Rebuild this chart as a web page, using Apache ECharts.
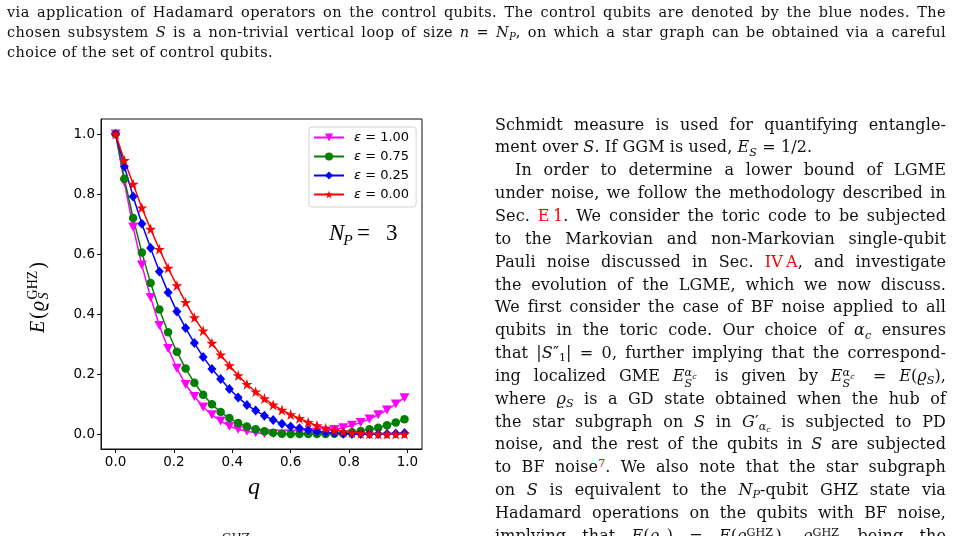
<!DOCTYPE html>
<html>
<head>
<meta charset="utf-8">
<script src="https://cdn.jsdelivr.net/npm/echarts@6/dist/echarts.min.js"></script>
<style>
  html, body { margin: 0; padding: 0; background: #fff; }
  #page { position: relative; width: 954px; height: 536px; overflow: hidden; }
  #chart { position: absolute; left: 0; top: 0; width: 954px; height: 536px; }
  .txt { position: absolute; font-family: "DejaVu Serif", serif; color: #111; }
  .caption { left: 7px; width: 939px; top: 1.5px; font-size: 14.5px; line-height: 20.4px; letter-spacing: 0.4px; }
  .body { left: 495px; width: 451px; top: 113.6px; font-size: 16px; line-height: 22.85px; letter-spacing: 0.1px; }
  .j { text-align: justify; text-align-last: justify; }
  .r { color: #f00; }
  sub, sup { font-size: 70%; line-height: 0; position: relative; vertical-align: baseline; letter-spacing: 0; }
  sup { top: -0.45em; }
  sub { top: 0.3em; }
  .st { position: relative; display: inline-block; height: 0; }
  .st .up { position: absolute; left: 0; top: -1.2em; font-size: 70%; line-height: 1; letter-spacing: 0; }
  .st .dn { position: absolute; left: 0; top: -0.25em; font-size: 70%; line-height: 1; }
</style>
</head>
<body>
<div id="page">
  <div id="chart"></div>

  <div class="txt caption">
    <div class="j">via application of Hadamard operators on the control qubits. The control qubits are denoted by the blue nodes. The</div>
    <div class="j">chosen subsystem <i>S</i> is a non-trivial vertical loop of size <i>n</i> = <i>N<sub>P</sub></i>, on which a star graph can be obtained via a careful</div>
    <div>choice of the set of control qubits.</div>
  </div>

  <div class="txt body">
    <div class="j">Schmidt measure is used for quantifying entangle-</div>
    <div>ment over <i>S</i>. If GGM is used, <i>E<sub>S</sub></i> = 1/2.</div>
    <div class="j" style="padding-left:20px">In order to determine a lower bound of LGME</div>
    <div class="j">under noise, we follow the methodology described in</div>
    <div class="j">Sec. <span class="r">E&#8201;1</span>. We consider the toric code to be subjected</div>
    <div class="j">to the Markovian and non-Markovian single-qubit</div>
    <div class="j">Pauli noise discussed in Sec. <span class="r">IV&#8201;A</span>, and investigate</div>
    <div class="j">the evolution of the LGME, which we now discuss.</div>
    <div class="j">We first consider the case of BF noise applied to all</div>
    <div class="j">qubits in the toric code. Our choice of <i>α<sub>c</sub></i> ensures</div>
    <div class="j">that |<i>S</i>″<sub>1</sub>| = 0, further implying that the correspond-</div>
    <div class="j">ing localized GME <i>E</i><span class="st" style="width:1.1em"><span class="up"><i>α<sub>c</sub></i></span><span class="dn"><i>S</i></span></span> is given by <i>E</i><span class="st" style="width:1.1em"><span class="up"><i>α<sub>c</sub></i></span><span class="dn"><i>S</i></span></span> = <i>E</i>(<i>ϱ<sub>S</sub></i>),</div>
    <div class="j">where <i>ϱ<sub>S</sub></i> is a GD state obtained when the hub of</div>
    <div class="j">the star subgraph on <i>S</i> in <i>G</i>′<sub><i>α<sub>c</sub></i></sub> is subjected to PD</div>
    <div class="j">noise, and the rest of the qubits in <i>S</i> are subjected</div>
    <div class="j">to BF noise<sup class="r">7</sup>. We also note that the star subgraph</div>
    <div class="j">on <i>S</i> is equivalent to the <i>N<sub>P</sub></i>-qubit GHZ state via</div>
    <div class="j">Hadamard operations on the qubits with BF noise,</div>
    <div class="j">implying that <i>E</i>(<i>ϱ<sub>S</sub></i>) = <i>E</i>(<i>ϱ</i><span class="st" style="width:1.8em"><span class="up">GHZ</span><span class="dn"><i>S</i></span></span>), <i>ϱ</i><span class="st" style="width:1.8em"><span class="up">GHZ</span><span class="dn"><i>S</i></span></span> being the</div>
  </div>

  <div class="txt" style="left:212px; top:529px; font-size:17px; line-height:22px;"><i>ϱ</i><span class="st" style="width:1.8em"><span class="up">GHZ</span><span class="dn"><i>S</i></span></span></div>
</div>

<script>
// q values on the x axis
const qValues = [0, 0.03, 0.06, 0.09, 0.12, 0.15, 0.18, 0.21, 0.24, 0.27, 0.30, 0.33,
  0.36, 0.39, 0.42, 0.45, 0.48, 0.51, 0.54, 0.57, 0.60, 0.63, 0.66, 0.69, 0.72, 0.75,
  0.78, 0.81, 0.84, 0.87, 0.90, 0.93, 0.96, 0.99];

// E(rho_S^GHZ) for each epsilon
const eps100 = [1.0, 0.839, 0.690, 0.563, 0.455, 0.362, 0.285, 0.219, 0.165, 0.125, 0.090, 0.064,
  0.043, 0.026, 0.016, 0.009, 0.004, 0.002, 0.001, 0, 0, 0.001, 0.003, 0.006, 0.010, 0.015,
  0.021, 0.029, 0.038, 0.050, 0.064, 0.080, 0.100, 0.121];
const eps075 = [1.0, 0.851, 0.720, 0.605, 0.503, 0.415, 0.339, 0.274, 0.218, 0.171, 0.131, 0.099,
  0.073, 0.053, 0.037, 0.025, 0.016, 0.009, 0.004, 0.001, 0, 0, 0, 0, 0, 0.001,
  0.002, 0.006, 0.010, 0.016, 0.021, 0.029, 0.038, 0.049];
const eps025 = [1.0, 0.892, 0.792, 0.701, 0.620, 0.542, 0.472, 0.408, 0.353, 0.303, 0.257, 0.217,
  0.183, 0.150, 0.122, 0.097, 0.078, 0.061, 0.047, 0.034, 0.025, 0.019, 0.013, 0.008, 0.005, 0.003,
  0.001, 0, 0, 0, 0, 0.001, 0.002, 0.003];
const eps000 = [1.0, 0.912, 0.833, 0.754, 0.683, 0.616, 0.553, 0.495, 0.439, 0.388, 0.344, 0.303,
  0.264, 0.228, 0.195, 0.166, 0.141, 0.118, 0.097, 0.080, 0.065, 0.052, 0.039, 0.028, 0.019, 0.013,
  0.008, 0.004, 0.002, 0.001, 0, 0, 0, 0];

const epsLabels = ['1.00', '0.75', '0.25', '0.00'];
const xTicks = [0, 0.2, 0.4, 0.6, 0.8, 1.0];
const yTicks = [0, 0.2, 0.4, 0.6, 0.8, 1.0];

const starPath = 'path://M0,-10L2.245,-3.09L9.51,-3.09L3.633,1.18L5.88,8.09L0,3.82L-5.88,8.09L-3.633,1.18L-9.51,-3.09L-2.245,-3.09Z';
const triDownPath = 'path://M-1,-1L1,-1L0,1Z';

const tickFont = '"DejaVu Sans", sans-serif';
const mathFont = '"Liberation Serif", "DejaVu Serif", serif';

// small helper to lay out math-ish text with sub/superscripts as graphic texts
const measureCtx = document.createElement('canvas').getContext('2d');
function measure(text, font) {
	measureCtx.font = font;
	return measureCtx.measureText(text).width;
}
function mathGroup(x, y, rotation, parts) {
	let cursor = 0;
	let stackStart = 0;
	let stackEnd = 0;
	const children = [];
	parts.forEach(function (p) {
		const font = (p.italic ? 'italic ' : '') + p.size + 'px ' + mathFont;
		const w = measure(p.text, font);
		let px;
		if (p.at !== undefined) {
			px = p.at;
		} else if (p.stack) {
			px = stackStart;
		} else {
			px = Math.max(cursor, stackEnd) + (p.gap || 0);
		}
		children.push({
			type: 'text',
			x: px,
			y: (p.dy || 0) - 0.33 * p.size,
			style: {
				text: p.text,
				font: font,
				fill: '#000',
				verticalAlign: 'middle',
				align: 'left',
			},
		});
		if (!p.stack) {
			stackStart = px;
			stackEnd = 0;
		}
		stackEnd = Math.max(stackEnd, px + w);
		cursor = px + w;
	});
	return { type: 'group', x: x, y: y, rotation: rotation, children: children };
}

function makeSeries(name, values, color, symbol, size) {
	return {
		name: name,
		type: 'line',
		data: qValues.map(function (q, i) {
			return [q, values[i]];
		}),
		symbol: symbol,
		symbolSize: size,
		showAllSymbol: true,
		clip: false,
		lineStyle: { color: color, width: 1.5 },
		itemStyle: { color: color, borderWidth: 0 },
		emphasis: { disabled: true },
	};
}

var chartDom = document.getElementById('chart');
var chart = echarts.init(chartDom, null, { renderer: 'canvas' });

const options = {
	animation: false,
	backgroundColor: 'transparent',
	grid: {
		left: 101,
		top: 119,
		width: 321,
		height: 330,
		show: true,
		borderColor: '#111',
		borderWidth: 1,
		backgroundColor: 'transparent',
	},
	legend: {
		orient: 'vertical',
		left: 309,
		top: 127,
		padding: [4, 7, 6, 4],
		itemWidth: 30,
		itemHeight: 10,
		itemGap: 6,
		backgroundColor: '#fff',
		borderColor: '#d4d4d4',
		borderWidth: 1,
		borderRadius: 3,
		data: ['ε = ' + epsLabels[0], 'ε = ' + epsLabels[1], 'ε = ' + epsLabels[2], 'ε = ' + epsLabels[3]],
		formatter: function (name) {
			return '{e|ε}{t|' + name.slice(1) + '}';
		},
		textStyle: {
			padding: [0, 0, 0, 5],
			rich: {
				e: { fontFamily: tickFont, fontSize: 13, fontStyle: 'italic', color: '#000' },
				t: { fontFamily: tickFont, fontSize: 13, color: '#000' },
			},
		},
	},
	xAxis: {
		type: 'value',
		min: -0.05,
		max: 1.05,
		splitLine: { show: false },
		axisLine: { show: true, onZero: false, lineStyle: { color: '#111', width: 1 } },
		axisTick: {
			show: true,
			customValues: xTicks,
			length: 4,
			lineStyle: { color: '#111', width: 1 },
		},
		axisLabel: {
			customValues: xTicks,
			formatter: function (v) {
				return v.toFixed(1);
			},
			margin: 6,
			color: '#000',
			fontFamily: tickFont,
			fontSize: 13.5,
		},
	},
	yAxis: {
		type: 'value',
		min: -0.05,
		max: 1.05,
		splitLine: { show: false },
		axisLine: { show: true, onZero: false, lineStyle: { color: '#111', width: 1 } },
		axisTick: {
			show: true,
			customValues: yTicks,
			length: 4,
			lineStyle: { color: '#111', width: 1 },
		},
		axisLabel: {
			customValues: yTicks,
			formatter: function (v) {
				return v.toFixed(1);
			},
			margin: 6,
			color: '#000',
			fontFamily: tickFont,
			fontSize: 13.5,
		},
	},
	series: [
		makeSeries('ε = ' + epsLabels[0], eps100, '#ff00ff', triDownPath, [10, 9]),
		makeSeries('ε = ' + epsLabels[1], eps075, '#008000', 'circle', 8.5),
		makeSeries('ε = ' + epsLabels[2], eps025, '#0000ff', 'diamond', [9, 10]),
		makeSeries('ε = ' + epsLabels[3], eps000, '#ff0000', starPath, [11, 11]),
	],
	graphic: [
		// y axis title E(rho_S^GHZ)
		mathGroup(45, 333, Math.PI / 2, [
			{ text: 'E', size: 20, italic: true },
			{ text: '(', size: 20, gap: 2 },
			{ text: 'ϱ', size: 20, italic: true, gap: 1 },
			{ text: 'GHZ', size: 14, dy: -7, gap: 1.5 },
			{ text: 'S', size: 14, italic: true, dy: 4, stack: true },
			{ text: ')', size: 20, gap: 2 },
		]),
		// x axis title q
		mathGroup(248, 496, 0, [{ text: 'q', size: 24, italic: true }]),
		// N_P = 3 annotation
		mathGroup(329, 242, 0, [
			{ text: 'N', size: 23, italic: true },
			{ text: 'P', size: 15.5, italic: true, dy: 4, gap: -1 },
			{ text: '=', size: 23, at: 28 },
			{ text: '3', size: 23, at: 57 },
		]),
	],
};

options && chart.setOption(options);
</script>
</body>
</html>
